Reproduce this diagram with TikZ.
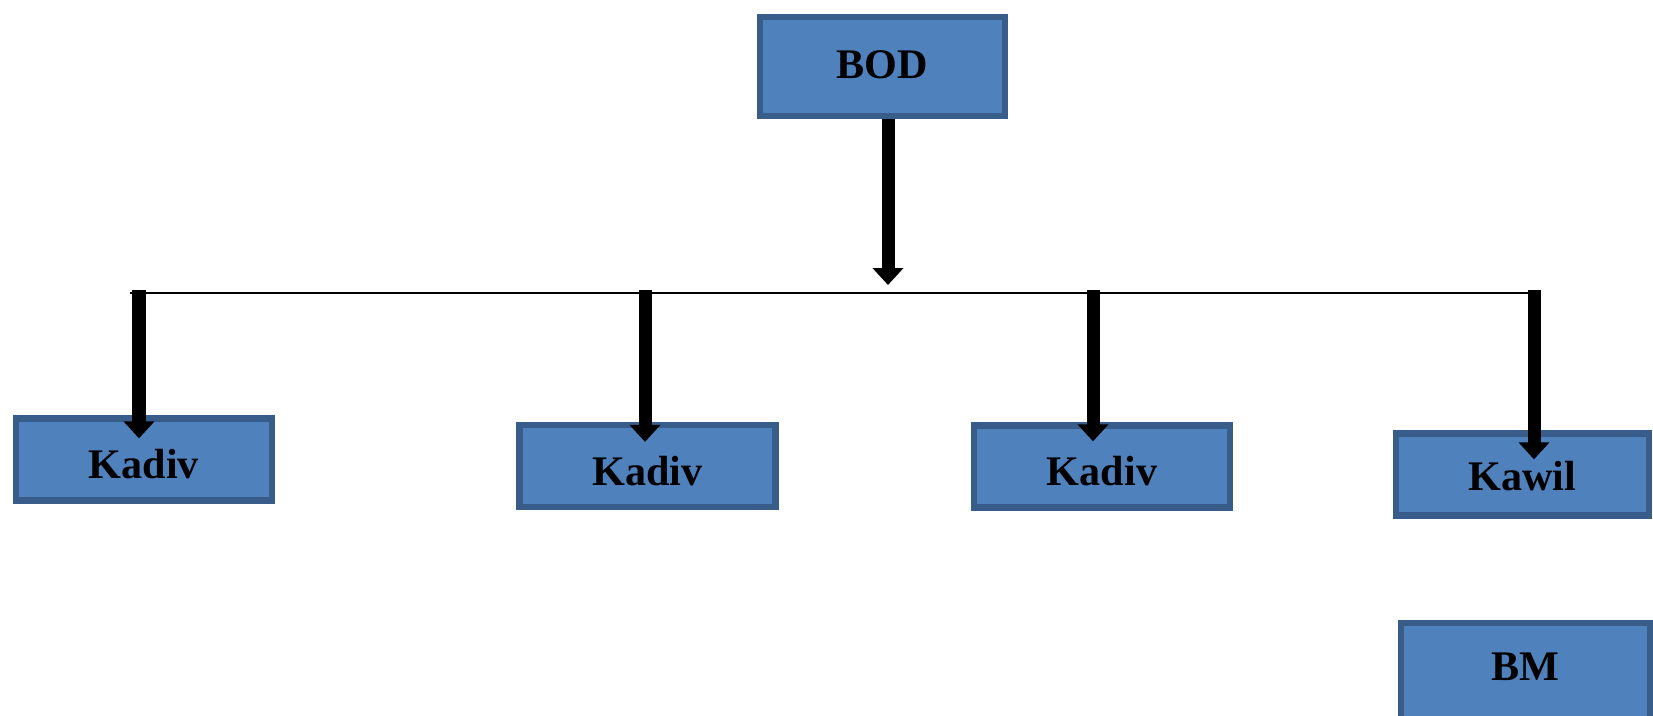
\documentclass[tikz,border=0pt]{standalone}
\usepackage{fontspec}
\setmainfont{Liberation Serif}
\usetikzlibrary{arrows.meta}
\definecolor{boxfill}{HTML}{4F81BD}
\definecolor{boxline}{HTML}{385D8A}

\begin{document}
\begin{tikzpicture}[
            unit/.style={draw=boxline, fill=boxfill, line width=1.8pt, inner sep=0,
                minimum width=2.56cm, minimum height=0.82cm,
                text height=0.38cm, text depth=0cm,
                font=\fontsize{12}{14}\selectfont\bfseries},
            down/.style={line width=3.7pt, -{Triangle[width=0.30cm, length=0.17cm]}},
            bus/.style={line width=0.6pt}]
        \useasboundingbox (0,0) rectangle (16.53,-7.15);
        \clip (0,0) rectangle (16.53,-7.15);

        \node (bod) [unit, minimum width=2.45cm, minimum height=0.99cm, text height=0.24cm] at (8.825,-0.665) {BOD};
        \node (k1) [unit] at (1.44,-4.595) {Kadiv};
        \node (k2) [unit] at (6.475,-4.66) {Kadiv};
        \node (k3) [unit] at (11.02,-4.665) {Kadiv};
        \node (kw) [unit, minimum width=2.53cm, text height=0.32cm] at (15.225,-4.745) {Kawil};
        \node (bm) [unit, minimum width=2.49cm, minimum height=1.04cm, text height=0.10cm] at (15.255,-6.75) {BM};

        \coordinate (tip) at (8.88,-2.85);
        \coordinate (busl) at (1.30,-2.93);
        \coordinate (busr) at (15.34,-2.93);
        \coordinate (t1) at (1.39,-2.90);
        \coordinate (t2) at (6.45,-2.90);
        \coordinate (t3) at (10.93,-2.90);
        \coordinate (t4) at (15.34,-2.90);

        \draw [down] (bod.south -| tip) -- (tip);
        \draw [bus] (busl) -- (busr);
        \draw [down] (t1) -- ([yshift=-0.23cm]k1.north -| t1);
        \draw [down] (t2) -- ([yshift=-0.20cm]k2.north -| t2);
        \draw [down] (t3) -- ([yshift=-0.19cm]k3.north -| t3);
        \draw [down] (t4) -- ([yshift=-0.29cm]kw.north -| t4);
    \end{tikzpicture}
\end{document}
